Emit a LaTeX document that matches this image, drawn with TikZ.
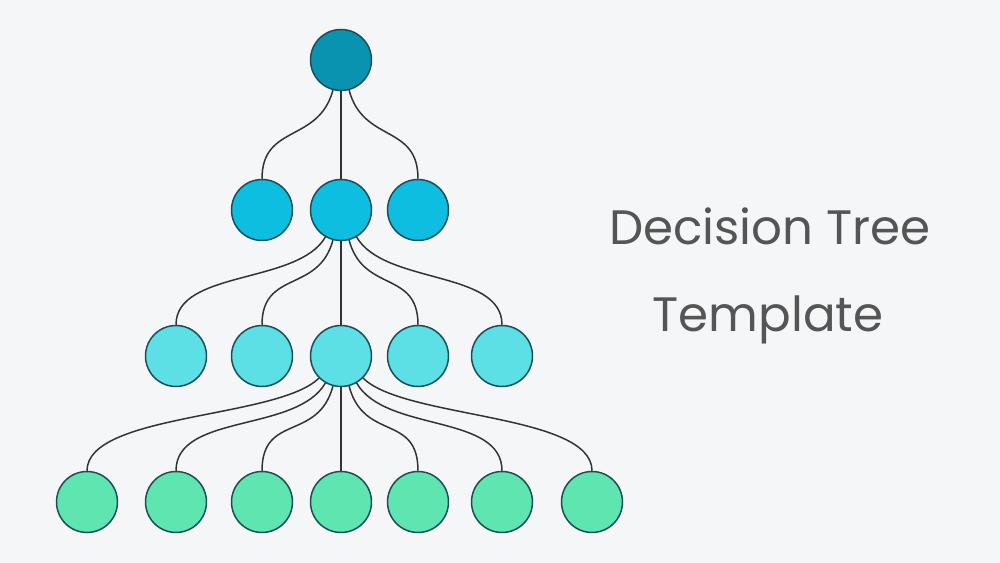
\documentclass[tikz,border=0pt]{standalone}
\usepackage{fontspec}
\setmainfont{Poppins}
\usetikzlibrary{positioning}
\definecolor{bgcol}{HTML}{F5F6F7}
\definecolor{rimcol}{HTML}{1B4D5A}
\definecolor{linkcol}{HTML}{333333}
\definecolor{rootcol}{HTML}{0A93B0}
\definecolor{twocol}{HTML}{0EBEE0}
\definecolor{threecol}{HTML}{5DDFE6}
\definecolor{fourcol}{HTML}{5FE5B0}
\definecolor{titlecol}{HTML}{555555}
\tikzset{
    x=0.02cm, y=0.02cm, % one unit is one pixel of the reference
    decision/.style={
            circle,
            draw=rimcol,
            line width=0.85pt,
            minimum size=1.22cm, % set the size of every circle
            inner sep=0pt,
        },
    rootnode/.style={decision, fill=rootcol},
    twonode/.style={decision, fill=twocol},
    threenode/.style={decision, fill=threecol},
    fournode/.style={decision, fill=fourcol},
    link/.style={draw=linkcol, line width=0.85pt},
    title/.style={text=titlecol, anchor=base, font=\fontsize{27.5}{33}\selectfont}
}
\begin{document}
\begin{tikzpicture}
                % background
                \fill[bgcol] (0,0) rectangle (1000,563);

                % nodes
                \node[rootnode] (r) at (341,503) {};

                \node[twonode] (b1) at (262,353) {};
                \node[twonode] (b2) at (341,353) {};
                \node[twonode] (b3) at (418,353) {};

                \node[threenode] (c1) at (176,207) {};
                \node[threenode] (c2) at (262,207) {};
                \node[threenode] (c3) at (341,207) {};
                \node[threenode] (c4) at (418,207) {};
                \node[threenode] (c5) at (502,207) {};

                \node[fournode] (d1) at (87,61) {};
                \node[fournode] (d2) at (176,61) {};
                \node[fournode] (d3) at (262,61) {};
                \node[fournode] (d4) at (341,61) {};
                \node[fournode] (d5) at (418,61) {};
                \node[fournode] (d6) at (502,61) {};
                \node[fournode] (d7) at (592,61) {};

                % edges
                \foreach \c/\a in {b1/-105, b2/-90, b3/-75}
                    \draw[link] (r.\a) to[out=\a, in=90, distance=1.1cm] (\c.north);
                \foreach \c/\a in {c1/-120, c2/-105, c3/-90, c4/-75, c5/-60}
                    \draw[link] (b2.\a) to[out=\a, in=90, distance=1.1cm] (\c.north);
                \foreach \c/\a in {d1/-135, d2/-120, d3/-105, d4/-90, d5/-75, d6/-60, d7/-45}
                    \draw[link] (c3.\a) to[out=\a, in=90, distance=1.15cm] (\c.north);

                % title
                \node[title] (t1) at (770,318) {Decision Tree};
                \node[title] (t2) at (768,231) {Template};
\end{tikzpicture}
\end{document}
